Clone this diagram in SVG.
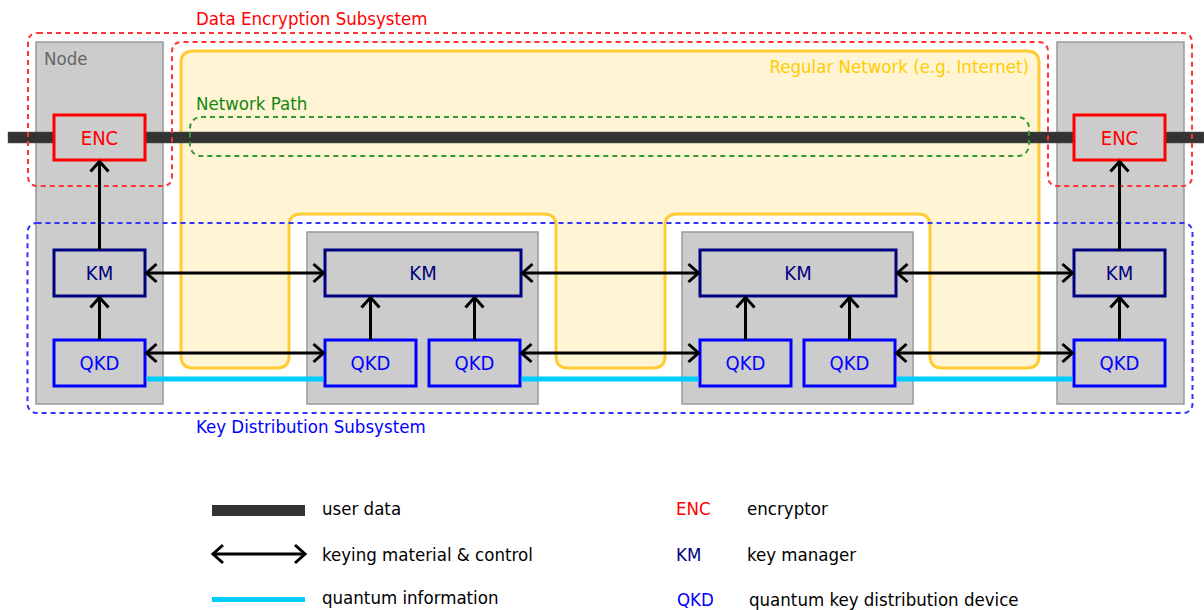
<svg xmlns="http://www.w3.org/2000/svg" width="1204" height="610" viewBox="0 0 1204 610">
<style>
text{font-family:"DejaVu Sans Condensed","DejaVu Sans",sans-serif;font-size:18.5px}
.node{fill:#cccccc;stroke:#999999;stroke-width:1.5}
.enc{fill:#cccccc;stroke:#ff0000;stroke-width:3}
.km{fill:#cccccc;stroke:#000080;stroke-width:3}
.qkd{fill:#cccccc;stroke:#0000ff;stroke-width:3}
.tenc{fill:#ff0000}
.tkm{fill:#000080}
.tqkd{fill:#0000ff}
.box{font-size:20px}
.key{stroke:#000;stroke-width:3;fill:none;marker-start:url(#ah);marker-end:url(#ah)}
.up{stroke:#000;stroke-width:3;fill:none;marker-end:url(#ah)}
.q{stroke:#00ccff;stroke-width:5;fill:none}
.leg{fill:#000}
</style>
<defs>
<marker id="ah" markerUnits="userSpaceOnUse" viewBox="-14 -12 16 24" refX="0" refY="0" markerWidth="16" markerHeight="24" orient="auto-start-reverse" overflow="visible">
<path d="M -10,-9 L 0,0 L -10,9" fill="none" stroke="#000" stroke-width="3"/>
</marker>
</defs>

<!-- regular network -->
<g id="regular-network">
<path d="M 193,51 H 1027 Q 1039,51 1039,63 V 356 Q 1039,368 1027,368 H 942 Q 930,368 930,356 V 226 Q 930,214 918,214 H 677 Q 665,214 665,226 V 356 Q 665,368 653,368 H 568 Q 556,368 556,356 V 226 Q 556,214 544,214 H 301 Q 289,214 289,226 V 356 Q 289,368 277,368 H 193 Q 181,368 181,356 V 63 Q 181,51 193,51 Z" fill="#fff4d4" stroke="#ffcc33" stroke-width="3"/>
<text x="1029" y="73" text-anchor="end" fill="#ffcc00">Regular Network (e.g. Internet)</text>
</g>

<!-- nodes -->
<g id="node-left">
<rect class="node" x="36" y="42" width="127" height="362"/>
<text x="44" y="65" fill="#666666">Node</text>
</g>
<g id="node-mid1"><rect class="node" x="307" y="232" width="231" height="172"/></g>
<g id="node-mid2"><rect class="node" x="682" y="232" width="231" height="172"/></g>
<g id="node-right"><rect class="node" x="1057" y="42" width="127" height="362"/></g>

<!-- user data -->
<g id="user-data">
<rect x="8" y="132" width="1196" height="11" fill="#333333" stroke="#555555" stroke-width="0.5"/>
</g>

<!-- subsystem outlines -->
<g id="data-encryption-subsystem">
<path d="M 38,33 H 1182 Q 1192,33 1192,43 V 176 Q 1192,186 1182,186 H 1058 Q 1048,186 1048,176 V 52 Q 1048,42 1038,42 H 182 Q 172,42 172,52 V 176 Q 172,186 162,186 H 38 Q 28,186 28,176 V 43 Q 28,33 38,33 Z" fill="none" stroke="#ff3333" stroke-width="2" stroke-dasharray="5,4"/>
<text x="196" y="25" fill="#ff0000">Data Encryption Subsystem</text>
</g>
<g id="network-path">
<rect x="190" y="117" width="839" height="39" rx="11" fill="none" stroke="#339933" stroke-width="2" stroke-dasharray="5,4"/>
<text x="196" y="110" fill="#118811">Network Path</text>
</g>
<g id="key-distribution-subsystem">
<rect x="27.5" y="223" width="1165" height="190" rx="9" fill="none" stroke="#3333ff" stroke-width="2" stroke-dasharray="5,4"/>
<text x="196" y="433" fill="#0000ff">Key Distribution Subsystem</text>
</g>

<!-- components -->
<g id="enc-left"><rect class="enc" x="54" y="115" width="91" height="45"/><text class="tenc box" x="99.5" y="145" text-anchor="middle">ENC</text></g>
<g id="enc-right"><rect class="enc" x="1074" y="115" width="91" height="45"/><text class="tenc box" x="1119.5" y="145" text-anchor="middle">ENC</text></g>
<g id="km-left"><rect class="km" x="54" y="250" width="91" height="46"/><text class="tkm box" x="99.5" y="280" text-anchor="middle">KM</text></g>
<g id="km-mid1"><rect class="km" x="325" y="250" width="196" height="46"/><text class="tkm box" x="423" y="280" text-anchor="middle">KM</text></g>
<g id="km-mid2"><rect class="km" x="700" y="250" width="196" height="46"/><text class="tkm box" x="798" y="280" text-anchor="middle">KM</text></g>
<g id="km-right"><rect class="km" x="1074" y="250" width="91" height="46"/><text class="tkm box" x="1119.5" y="280" text-anchor="middle">KM</text></g>
<g id="qkd-left"><rect class="qkd" x="54" y="340" width="91" height="46"/><text class="tqkd box" x="99.5" y="370" text-anchor="middle">QKD</text></g>
<g id="qkd-mid1a"><rect class="qkd" x="325" y="340" width="91" height="46"/><text class="tqkd box" x="370.5" y="370" text-anchor="middle">QKD</text></g>
<g id="qkd-mid1b"><rect class="qkd" x="429" y="340" width="91" height="46"/><text class="tqkd box" x="474.5" y="370" text-anchor="middle">QKD</text></g>
<g id="qkd-mid2a"><rect class="qkd" x="700" y="340" width="91" height="46"/><text class="tqkd box" x="745.5" y="370" text-anchor="middle">QKD</text></g>
<g id="qkd-mid2b"><rect class="qkd" x="804" y="340" width="91" height="46"/><text class="tqkd box" x="849.5" y="370" text-anchor="middle">QKD</text></g>
<g id="qkd-right"><rect class="qkd" x="1074" y="340" width="91" height="46"/><text class="tqkd box" x="1119.5" y="370" text-anchor="middle">QKD</text></g>

<!-- connectors -->
<g id="connectors">
<line class="up" x1="99.5" y1="250" x2="99.5" y2="161.5"/>
<line class="up" x1="1119.5" y1="250" x2="1119.5" y2="161.5"/>
<line class="up" x1="99.5" y1="340" x2="99.5" y2="297.5"/>
<line class="up" x1="1119.5" y1="340" x2="1119.5" y2="297.5"/>
<line class="up" x1="370.5" y1="340" x2="370.5" y2="297.5"/>
<line class="up" x1="474.5" y1="340" x2="474.5" y2="297.5"/>
<line class="up" x1="745.5" y1="340" x2="745.5" y2="297.5"/>
<line class="up" x1="849.5" y1="340" x2="849.5" y2="297.5"/>
<line class="key" x1="146.5" y1="273" x2="323.5" y2="273"/>
<line class="key" x1="522.5" y1="273" x2="698.5" y2="273"/>
<line class="key" x1="897.5" y1="273" x2="1072.5" y2="273"/>
<line class="key" x1="146.5" y1="353" x2="323.5" y2="353"/>
<line class="key" x1="521.5" y1="353" x2="698.5" y2="353"/>
<line class="key" x1="896.5" y1="353" x2="1072.5" y2="353"/>
<line class="q" x1="146.5" y1="379" x2="323.5" y2="379"/>
<line class="q" x1="521.5" y1="379" x2="698.5" y2="379"/>
<line class="q" x1="896.5" y1="379" x2="1072.5" y2="379"/>
</g>

<!-- legend -->
<g id="legend">
<rect x="212" y="505" width="93" height="11" fill="#333333"/>
<text class="leg" x="322" y="515">user data</text>
<line class="key" x1="213" y1="554" x2="305" y2="554"/>
<text class="leg" x="322" y="561">keying material &amp; control</text>
<line class="q" x1="212" y1="599.5" x2="305" y2="599.5"/>
<text class="leg" x="322" y="604">quantum information</text>
<text class="tenc" x="676" y="515">ENC</text>
<text class="leg" x="747" y="515">encryptor</text>
<text class="tkm" x="676" y="561">KM</text>
<text class="leg" x="747" y="561">key manager</text>
<text class="tqkd" x="677" y="606">QKD</text>
<text class="leg" x="749" y="606">quantum key distribution device</text>
</g>
</svg>
